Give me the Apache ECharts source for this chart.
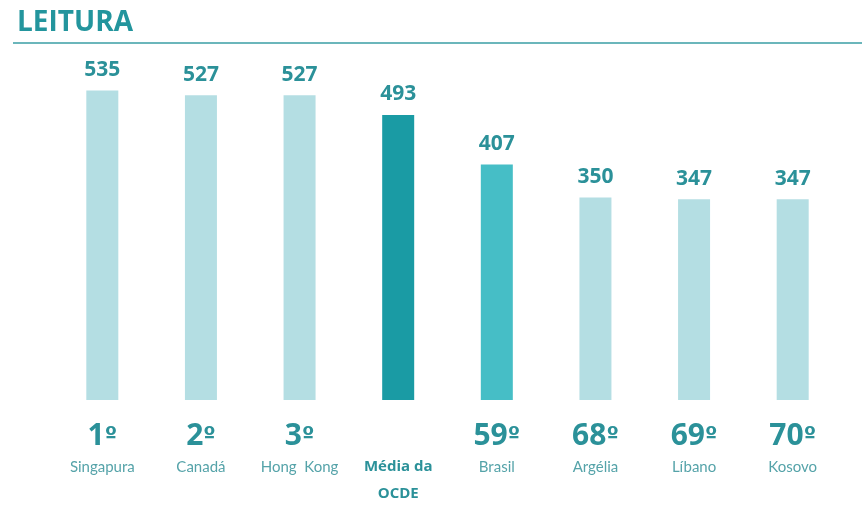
<!DOCTYPE html>
<html>
<head>
<meta charset="utf-8">
<script src="https://cdn.jsdelivr.net/npm/echarts@6/dist/echarts.min.js"></script>
<style>
  html, body { margin: 0; padding: 0; background: #fff; }
  #main { width: 862px; height: 511px; }
</style>
</head>
<body>
<div id="main"></div>
<script>
// dados
var paises = ['Singapura', 'Canadá', 'Hong  Kong', 'Média da OCDE', 'Brasil', 'Argélia', 'Líbano', 'Kosovo'];
var posicoes = ['1º', '2º', '3º', '', '59º', '68º', '69º', '70º'];
var notas = [535, 527, 527, 493, 407, 350, 347, 347];

var corClara = '#b4dee3';
var corOcde = '#1a9ba4';
var corBrasil = '#46bec6';
var corTexto = '#2b9199';

var myChart = echarts.init(document.getElementById('main'));

var dadosBarras = notas.map(function (v, i) {
  var cor = corClara;
  if (paises[i] === 'Média da OCDE') cor = corOcde;
  if (paises[i] === 'Brasil') cor = corBrasil;
  return { value: v, itemStyle: { color: cor } };
});

var option = {
  animation: false,
  title: {
    text: 'LEITURA',
    left: 12,
    top: 4,
    textStyle: {
      fontFamily: 'Open Sans',
      fontWeight: 'bold',
      fontSize: 28,
      color: '#23959d'
    }
  },
  graphic: [{
    type: 'line',
    shape: { x1: 13, y1: 43, x2: 862, y2: 43 },
    style: { stroke: '#3a9ea5', lineWidth: 1.5 }
  }],
  grid: {
    left: 53,
    right: 20,
    top: 53,
    bottom: 111
  },
  xAxis: {
    type: 'category',
    data: paises,
    axisLine: { show: false },
    axisTick: { show: false },
    axisLabel: {
      interval: 0,
      margin: 19,
      formatter: function (value, idx) {
        if (value === 'Média da OCDE') {
          return '{r| }\n{b|Média da}\n{b|OCDE}';
        }
        var num = posicoes[idx].replace('º', '');
        return '{r|' + num + '}{o|º}\n{n|' + value + '}';
      },
      rich: {
        r: {
          fontFamily: 'Open Sans',
          fontWeight: 'bold',
          fontSize: 30,
          lineHeight: 34,
          color: corTexto,
          align: 'center'
        },
        o: {
          fontFamily: 'DejaVu Sans',
          fontWeight: 'bold',
          fontSize: 22,
          lineHeight: 34,
          color: corTexto,
          align: 'center'
        },
        n: {
          fontFamily: 'Lato',
          fontSize: 15,
          lineHeight: 28,
          color: '#55a3a9',
          align: 'center'
        },
        b: {
          fontFamily: 'Open Sans',
          fontWeight: 'bold',
          fontSize: 15,
          lineHeight: 27,
          color: corTexto,
          align: 'center'
        }
      }
    }
  },
  yAxis: {
    type: 'value',
    min: 0,
    max: 600,
    show: false
  },
  series: [{
    type: 'bar',
    data: dadosBarras,
    barWidth: 32,
    label: {
      show: true,
      position: 'top',
      distance: 10,
      fontFamily: 'Open Sans',
      fontWeight: 'bold',
      fontSize: 21,
      color: corTexto
    }
  }]
};

myChart.setOption(option);
</script>
</body>
</html>
